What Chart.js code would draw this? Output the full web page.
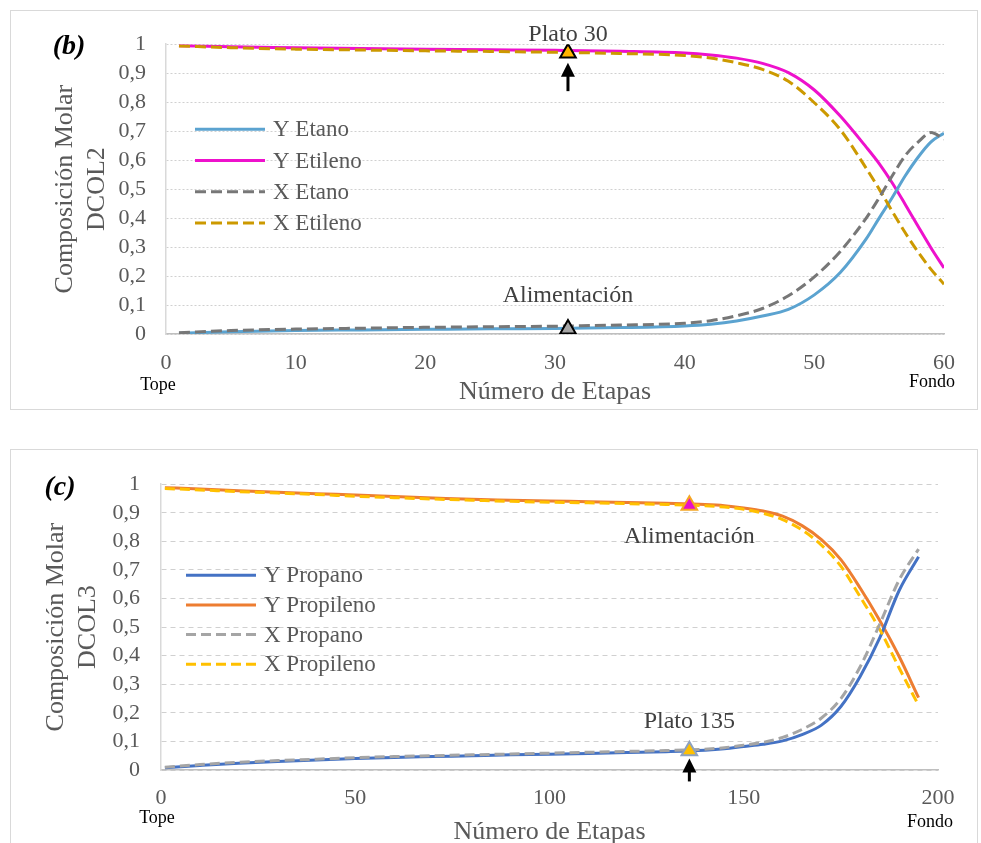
<!DOCTYPE html>
<html>
<head>
<meta charset="utf-8">
<script src="https://cdn.jsdelivr.net/npm/chart.js@4.4.1/dist/chart.umd.min.js"></script>
<style>
html, body { margin: 0; padding: 0; background: #fff; overflow: hidden; }
.marco { position: absolute; left: 10px; width: 966px; height: 398px; border: 1px solid #d9d9d9; }
#marcoB { top: 10px; }
#marcoC { top: 449px; }
canvas { display: block; }
</style>
</head>
<body>
<div class="marco" id="marcoB"><canvas id="colB" width="966" height="398"></canvas></div>
<div class="marco" id="marcoC"><canvas id="colC" width="966" height="398"></canvas></div>
<script>
Chart.defaults.font.family = "'Liberation Serif', 'Times New Roman', serif";
Chart.defaults.color = '#595959';

// ejes comunes
const yTicks = [0, 0.1, 0.2, 0.3, 0.4, 0.5, 0.6, 0.7, 0.8, 0.9, 1];
const yTickLabels = ['0', '0,1', '0,2', '0,3', '0,4', '0,5', '0,6', '0,7', '0,8', '0,9', '1'];

// (b) DCOL2
const etapasB = [1, 5, 10, 15, 20, 25, 30, 35, 40, 42, 44, 46, 48, 50, 52, 54, 55, 56, 57, 58, 59, 60];
const yEtano = [0.003, 0.008, 0.012, 0.014, 0.016, 0.018, 0.019, 0.022, 0.028, 0.034, 0.045, 0.062, 0.085, 0.135, 0.212, 0.328, 0.400, 0.470, 0.545, 0.610, 0.663, 0.693];
const yEtileno = [0.995, 0.991, 0.988, 0.985, 0.983, 0.981, 0.979, 0.976, 0.970, 0.963, 0.952, 0.934, 0.902, 0.842, 0.752, 0.645, 0.588, 0.522, 0.448, 0.372, 0.297, 0.228];
const xEtano = [0.004, 0.012, 0.017, 0.020, 0.023, 0.025, 0.027, 0.031, 0.037, 0.046, 0.063, 0.088, 0.132, 0.197, 0.285, 0.400, 0.470, 0.545, 0.615, 0.662, 0.695, 0.672];
const xEtileno = [0.994, 0.988, 0.983, 0.980, 0.977, 0.975, 0.972, 0.968, 0.961, 0.952, 0.936, 0.913, 0.872, 0.798, 0.705, 0.572, 0.500, 0.424, 0.350, 0.283, 0.223, 0.172];
const xTicksB = [0, 10, 20, 30, 40, 50, 60];
const platoB = [31, 0.970];
const alimB = [31, 0.017];

// (c) DCOL3
const etapasC = [1, 10, 20, 30, 40, 50, 60, 70, 80, 90, 100, 110, 120, 130, 140, 145, 150, 155, 160, 165, 170, 175, 180, 185, 190, 195];
const yPropano = [0.008, 0.016, 0.024, 0.030, 0.035, 0.040, 0.044, 0.047, 0.050, 0.053, 0.055, 0.058, 0.061, 0.064, 0.069, 0.074, 0.082, 0.090, 0.102, 0.124, 0.157, 0.222, 0.328, 0.462, 0.628, 0.746];
const yPropileno = [0.988, 0.983, 0.977, 0.972, 0.967, 0.962, 0.957, 0.952, 0.947, 0.944, 0.941, 0.939, 0.936, 0.933, 0.929, 0.925, 0.917, 0.906, 0.888, 0.855, 0.806, 0.736, 0.636, 0.523, 0.397, 0.253];
const xPropano = [0.010, 0.019, 0.027, 0.033, 0.038, 0.043, 0.047, 0.050, 0.053, 0.056, 0.059, 0.062, 0.065, 0.068, 0.073, 0.078, 0.087, 0.097, 0.114, 0.142, 0.182, 0.250, 0.362, 0.510, 0.665, 0.773];
const xPropileno = [0.985, 0.980, 0.974, 0.969, 0.964, 0.958, 0.953, 0.948, 0.944, 0.940, 0.937, 0.935, 0.932, 0.929, 0.925, 0.920, 0.912, 0.898, 0.876, 0.840, 0.787, 0.713, 0.605, 0.492, 0.357, 0.226];
const xTicksC = [0, 50, 100, 150, 200];
const alimC = [136, 0.926];
const platoC = [136, 0.067];

function serie(nombre, etapas, valores, color, guion) {
	return {
		label: nombre,
		data: etapas.map((e, i) => ({ x: e, y: valores[i] })),
		borderColor: color,
		borderWidth: 3,
		borderDash: guion || [],
		pointRadius: 0,
		cubicInterpolationMode: 'monotone',
		fill: false,
		order: guion ? 1 : 2
	};
}

function marca(p, relleno, borde) {
	return {
		label: '',
		data: [{ x: p[0], y: p[1] }],
		showLine: false,
		pointStyle: 'triangle',
		pointRadius: 9,
		pointBackgroundColor: relleno,
		pointBorderColor: borde,
		pointBorderWidth: 2,
		order: 0
	};
}

// textos, flechas y leyenda dibujados sobre el grafico
const anotaciones = {
	id: 'anotaciones',
	afterDatasetsDraw(chart, args, o) {
		const ctx = chart.ctx, xs = chart.scales.x, ys = chart.scales.y, a = chart.chartArea;
		ctx.save();
		// flechas
		o.flechas.forEach(f => {
			const x = xs.getPixelForValue(f.x);
			const y1 = ys.getPixelForValue(f.desde), y2 = ys.getPixelForValue(f.hasta);
			ctx.strokeStyle = '#000';
			ctx.fillStyle = '#000';
			ctx.lineWidth = 3;
			ctx.beginPath(); ctx.moveTo(x, y1); ctx.lineTo(x, y2 + 10); ctx.stroke();
			ctx.beginPath(); ctx.moveTo(x, y2); ctx.lineTo(x - 7, y2 + 14); ctx.lineTo(x + 7, y2 + 14); ctx.closePath(); ctx.fill();
		});
		// textos
		ctx.textAlign = 'center';
		ctx.textBaseline = 'middle';
		ctx.fillStyle = '#404040';
		ctx.font = "24px 'Liberation Serif'";
		o.textos.forEach(t => {
			ctx.fillText(t.texto, xs.getPixelForValue(t.x), ys.getPixelForValue(t.y));
		});
		ctx.fillStyle = '#000';
		ctx.font = "18px 'Liberation Serif'";
		ctx.fillText('Tope', a.left + o.tope[0], a.bottom + o.tope[1]);
		ctx.fillText('Fondo', a.right + o.fondo[0], a.bottom + o.fondo[1]);
		ctx.font = "italic bold 28px 'Liberation Serif'";
		ctx.fillText(o.etiqueta, o.posEtiqueta[0], o.posEtiqueta[1]);
		// leyenda
		const L = o.leyenda;
		ctx.textAlign = 'left';
		ctx.font = "23px 'Liberation Serif'";
		chart.data.datasets.filter(d => d.label).forEach((d, i) => {
			const y = a.top + L.y + i * L.paso;
			ctx.strokeStyle = d.borderColor;
			ctx.lineWidth = 3;
			ctx.setLineDash(d.borderDash);
			ctx.beginPath(); ctx.moveTo(a.left + L.x, y); ctx.lineTo(a.left + L.x + 70, y); ctx.stroke();
			ctx.setLineDash([]);
			ctx.fillStyle = '#595959';
			ctx.fillText(d.label, a.left + L.x + 78, y + 1);
		});
		ctx.restore();
	}
};

function armar(id, series, marcas, xTicks, xMax, tituloY, geo, notas, guionRejilla) {
	return new Chart(document.getElementById(id), {
		type: 'line',
		data: { datasets: series.concat(marcas) },
		plugins: [anotaciones],
		options: {
			responsive: false,
			animation: false,
			devicePixelRatio: 1,
			layout: { padding: { left: 0, top: geo.top, right: geo.right, bottom: 0 } },
			plugins: {
				legend: { display: false },
				tooltip: { enabled: false },
				anotaciones: notas
			},
			scales: {
				x: {
					type: 'linear',
					min: 0,
					max: xMax,
					afterBuildTicks: s => { s.ticks = xTicks.map(v => ({ value: v })); },
					afterFit: s => { s.height = geo.alturaX; },
					grid: { display: false, drawTicks: false },
					border: { display: true, color: '#bfbfbf', width: 1.5 },
					ticks: { font: { size: 22 }, color: '#595959', padding: geo.padX, maxRotation: 0, autoSkip: false },
					title: { display: true, text: 'Número de Etapas', font: { size: 26 }, color: '#595959', padding: { top: 0, bottom: geo.tituloX } }
				},
				y: {
					min: 0,
					max: 1,
					afterBuildTicks: s => { s.ticks = yTicks.map(v => ({ value: v })); },
					afterFit: s => { s.width = geo.anchoY; },
					grid: { color: '#d0d0d0', lineWidth: 1, drawTicks: false },
					border: { display: true, color: '#d9d9d9', width: 1.5, dash: guionRejilla },
					ticks: { font: { size: 22 }, color: '#595959', padding: geo.padY, autoSkip: false, callback: (v, i) => yTickLabels[i] },
					title: { display: true, text: ['Composición Molar', tituloY], font: { size: 26 }, color: '#595959', padding: { top: geo.tituloY, bottom: 0 } }
				}
			}
		}
	});
}

armar('colB',
	[
		serie('Y Etano', etapasB, yEtano, '#5ba3d0'),
		serie('Y Etileno', etapasB, yEtileno, '#ee11cc'),
		serie('X Etano', etapasB, xEtano, '#777777', [11, 5]),
		serie('X Etileno', etapasB, xEtileno, '#cc9900', [11, 5])
	],
	[marca(platoB, '#ffb400', '#000000'), marca(alimB, '#a6a6a6', '#000000')],
	xTicksB, 60, 'DCOL2',
	{ top: 26, right: 33, alturaX: 75, anchoY: 155, padX: 16, padY: 20, tituloX: 1, tituloY: 39 },
	{
		etiqueta: '(b)', posEtiqueta: [58, 36],
		tope: [-8, 51], fondo: [-12, 48],
		leyenda: { x: 29, y: 85, paso: 31.3 },
		textos: [{ texto: 'Plato 30', x: 31, y: 1.034 }, { texto: 'Alimentación', x: 31, y: 0.131 }],
		flechas: [{ x: 31, desde: 0.838, hasta: 0.936 }]
	},
	[2, 2]
);

armar('colC',
	[
		serie('Y Propano', etapasC, yPropano, '#4472c4'),
		serie('Y Propileno', etapasC, yPropileno, '#ed7d31'),
		serie('X Propano', etapasC, xPropano, '#a5a5a5', [10, 5]),
		serie('X Propileno', etapasC, xPropileno, '#ffc000', [10, 5])
	],
	[marca(alimC, '#e810c8', '#f5a623'), marca(platoC, '#ffc000', '#8ea2c0')],
	xTicksC, 200, 'DCOL3',
	{ top: 23, right: 39, alturaX: 78, anchoY: 150, padX: 15, padY: 21, tituloX: 0, tituloY: 30 },
	{
		etiqueta: '(c)', posEtiqueta: [49, 38],
		tope: [-4, 48], fondo: [-8, 52],
		leyenda: { x: 25, y: 91, paso: 29.7 },
		textos: [{ texto: 'Alimentación', x: 136, y: 0.815 }, { texto: 'Plato 135', x: 136, y: 0.168 }],
		flechas: [{ x: 136, desde: -0.040, hasta: 0.040 }]
	},
	[5, 4]
);
</script>
</body>
</html>
